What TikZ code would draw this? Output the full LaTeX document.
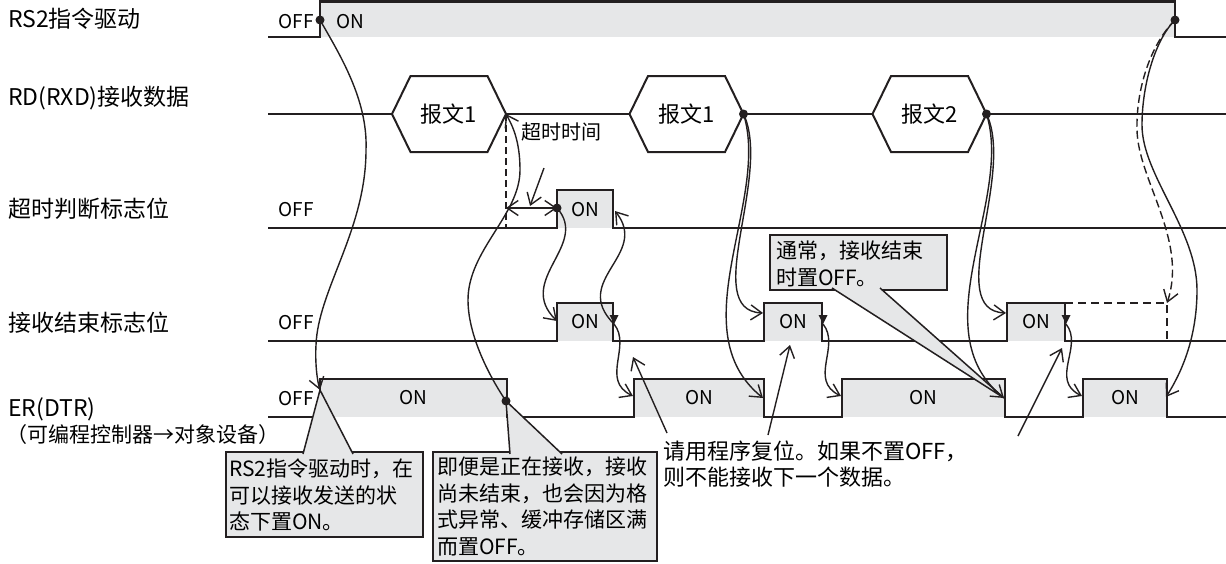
\documentclass[tikz,border=0pt]{standalone}
\usepackage{fontspec}
\setmainfont{Noto Sans CJK SC}
\usetikzlibrary{arrows.meta,positioning}
\definecolor{bargray}{HTML}{E6E7E8}
\definecolor{ink}{HTML}{231F20}
\begin{document}
\begin{tikzpicture}[x=1pt, y=-1pt,
    >={Straight Barb[length=11pt,width=15pt]},
    sigline/.style = {ink, line width=2.3pt},
    link/.style = {ink, line width=1.4pt, ->},
    rowlabel/.style = {anchor=west, inner sep=0pt, font=\fontsize{23}{27}\selectfont},
    lvtext/.style = {inner sep=0pt, font=\fontsize{19}{22}\selectfont},
    hextext/.style = {inner sep=0pt, font=\fontsize{22}{26}\selectfont},
    callout/.style = {draw=ink, fill=bargray, line width=1.5pt},
    notetext/.style = {anchor=north west, align=left, inner sep=0pt, font=\fontsize{21}{26.5}\selectfont},
  ]
  \useasboundingbox (0,0) rectangle (1226,563);

  \node[rowlabel] (lbRS) at (8,19) {RS2指令驱动};
  \node[rowlabel] (lbRD) at (8,98) {RD(RXD)接收数据};
  \node[rowlabel] (lbTO) at (8,209) {超时判断标志位};
  \node[rowlabel] (lbEnd) at (8,323) {接收结束标志位};
  \node[rowlabel] (lbER) at (8,409) {ER(DTR)};
  \node[rowlabel, font=\fontsize{21}{25}\selectfont] (lbER2) at (6,435) {（可编程控制器→对象设备）};

  \fill[bargray] (320,1.5) rectangle (1175,37);
  \foreach \a/\b/\lo in {557/613/228, 557/613/341, 764/822/341, 1007/1065/341,
      320/507/417, 634/764/417, 842/1005/417, 1083/1167/417}
    \fill[bargray] (\a,\lo-38) rectangle (\b,\lo);

  \draw[sigline] (268,37) -| (320,1.5) -| (1175,37) -- (1226,37);
  \draw[sigline] (268,114) -- (1226,114);
  \draw[sigline] (268,228) -| (557,190) -| (613,228) -- (1226,228);
  \draw[sigline] (268,341) -| (557,303) -| (613,341) -| (764,303) -| (822,341) -| (1007,303) -| (1065,341) -- (1226,341);
  \draw[sigline] (268,417) -| (320,379) -| (507,417) -| (634,379) -| (764,417) -| (842,379) -| (1005,417) -| (1083,379) -| (1167,417) -- (1226,417);
  \draw[ink, line width=1.5pt, dash pattern=on 8pt off 5pt] (1065,303) -- (1167,303) -- (1167,341);

  \foreach \n/\c/\t in {a/449/报文1, b/686.5/报文1, c/929.5/报文2} {
    \filldraw[sigline, line width=2pt, fill=white] (\c-57,114) -- (\c-38.5,76) -- (\c+38.5,76) -- (\c+57,114) -- (\c+38.5,152) -- (\c-38.5,152) -- cycle;
    \node[hextext] (msg\n) at (\c,114) {\t};
    \coordinate (tip\n) at (\c+57,114);
  }

  \foreach \x/\y/\t in {296/22/OFF, 350/22/ON, 296/210/OFF, 585/210/ON, 296/323/OFF, 585/322/ON, 793/322/ON, 1036/322/ON,
      296/399/OFF, 413/398/ON, 699/398/ON, 923/398/ON, 1125/398/ON}
    \node[lvtext] at (\x,\y) {\t};

  \coordinate (rsOn) at (320,20);
  \coordinate (rsOff) at (1175,20);
  \coordinate (toStart) at (506,208);
  \coordinate (toRise) at (557,208);
  \coordinate (toFall) at (615,211);
  \coordinate (toBase) at (506,228);
  \coordinate (doneA) at (557,321);
  \coordinate (doneB) at (763,313);
  \coordinate (doneC) at (1006,313);
  \coordinate (trA) at (614,324);
  \coordinate (trB) at (823,324);
  \coordinate (trC) at (1066,324);
  \coordinate (erOnA) at (320,390);
  \coordinate (erOnB) at (633,396);
  \coordinate (erOnC) at (841,396);
  \coordinate (erOnD) at (1082,396);
  \coordinate (erOffA) at (506,401);
  \coordinate (erOffB) at (763,398);
  \coordinate (erOffC) at (1004,398);
  \coordinate (erOffD) at (1166,397);
  \coordinate (gapEnd) at (1167,303);

  \draw[callout] (226,452) rectangle (423,537);
  \filldraw[callout] (303,454) -- (erOnA) -- (353,454);
  \node[notetext] (noteA) at (229,459) {RS2指令驱动时，在\\可以接收发送的状\\态下置ON。};
  \draw[callout] (433,452) rectangle (657,561);
  \filldraw[callout] (510,454) -- (erOffA) -- (562,454);
  \node[notetext] (noteB) at (437,457) {即便是正在接收，接收\\尚未结束，也会因为格\\式异常、缓冲存储区满\\而置OFF。};
  \draw[callout] (770,235) rectangle (947,290);
  \filldraw[callout] (832,288) -- (erOffC) -- (880,288);
  \node[notetext] (noteC) at (776,241) {通常，接收结束\\时置OFF。};

  \node[notetext, font=\fontsize{22}{26}\selectfont] (reset) at (663,441) {请用程序复位。如果不置OFF，\\则不能接收下一个数据。};
  \coordinate (ptA) at (667,433);
  \coordinate (ptB) at (768,435);
  \coordinate (ptC) at (1018,436);
  \coordinate (pokeA) at (633,357);
  \coordinate (pokeB) at (790,345);
  \coordinate (pokeC) at (1062,348);
  \foreach \s/\e in {ptA/pokeA, ptB/pokeB, ptC/pokeC}
    \draw[link] (\s) -- (\e);

  \draw[ink, line width=1.4pt, dash pattern=on 7pt off 4pt] (tipa) -- (toBase);
  \draw[ink, line width=1.4pt, <->] (toStart) -- (toRise);
  \node[anchor=west, inner sep=0pt, font=\fontsize{20}{24}\selectfont] (toLabel) at (521,132) {超时时间};
  \coordinate (toPtr) at (544,168);
  \coordinate (toMid) at (530,206);
  \draw[link] (toPtr) -- (toMid);

  \draw[link] (rsOn) .. controls (340,55) and (368,100) .. (366,150) .. controls (366,230) and (318,290) .. (316,345) .. controls (315,362) and (317,380) .. (erOnA);
  \draw[link] (rsOff) .. controls (1155,40) and (1142,85) .. (1142,125) .. controls (1142,175) and (1197,230) .. (1197,290) .. controls (1197,340) and (1180,375) .. (erOffD);
  \draw[link, dash pattern=on 8pt off 4pt] (rsOff) .. controls (1150,45) and (1136,90) .. (1137,130) .. controls (1138,180) and (1188,240) .. (gapEnd);
  \draw[link] (erOffA) .. controls (495,385) and (468,340) .. (468,300) .. controls (468,250) and (520,215) .. (520,170) .. controls (520,140) and (512,125) .. (tipa);
  \draw[link] (toRise) .. controls (590,245) and (515,280) .. (doneA);
  \draw[link] (trA) .. controls (570,280) and (650,255) .. (toFall);
  \foreach \s/\e in {trA/erOnB, trB/erOnC, trC/erOnD}
    \draw[link] (\s) .. controls +(18,22) and +(-33,-16) .. (\e);
  \foreach \h/\d/\e in {tipb/doneB/erOffB, tipc/doneC/erOffC} {
    \draw[link] (\h) .. controls +(29,61) and +(-63,-3) .. (\d);
    \draw[link] (\h) .. controls +(27,86) and +(-84,-68) .. (\e);
  }

  \foreach \p in {trA, trB, trC}
    \fill[ink] ([shift={(-4.5,-9)}]\p) -- ([shift={(4.5,-9)}]\p) -- (\p) -- cycle;
  \foreach \p in {rsOn, rsOff, tipb, tipc, toRise, erOffA}
    \fill[ink] (\p) circle (4.5pt);
\end{tikzpicture}
\end{document}
